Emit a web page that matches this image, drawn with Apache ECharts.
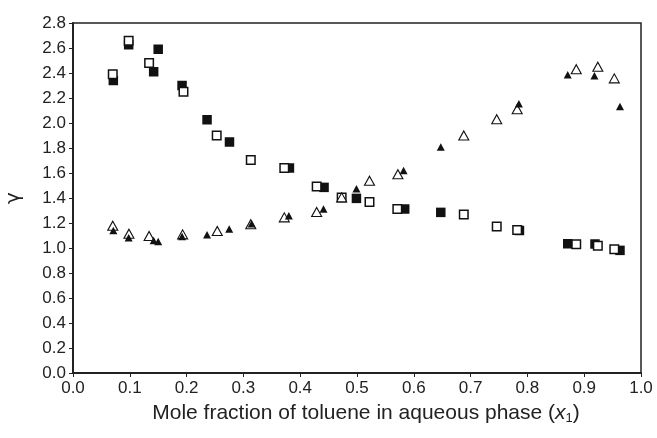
<!DOCTYPE html>
<html>
<head>
<meta charset="utf-8">
<script src="https://cdn.jsdelivr.net/npm/echarts@6/dist/echarts.min.js"></script>
<style>
  html, body { margin: 0; padding: 0; background: #fff; }
  #chart { width: 657px; height: 438px; }
</style>
</head>
<body>
<div id="chart"></div>
<script>
// 实验点（空心/实心方块、三角），[x1, gamma]
const squareFilled = [
  [0.071, 2.34], [0.098, 2.626], [0.142, 2.41], [0.150, 2.59], [0.192, 2.30],
  [0.236, 2.026], [0.2755, 1.848], [0.381, 1.64], [0.442, 1.485], [0.499, 1.397],
  [0.584, 1.312], [0.6475, 1.285], [0.786, 1.14], [0.871, 1.034], [0.919, 1.032],
  [0.963, 0.981]
]
const squareOpen = [
  [0.070, 2.39], [0.098, 2.658], [0.134, 2.48], [0.1945, 2.25], [0.253, 1.90],
  [0.313, 1.705], [0.372, 1.64], [0.429, 1.493], [0.473, 1.405], [0.522, 1.368],
  [0.571, 1.312], [0.688, 1.268], [0.746, 1.173], [0.782, 1.144], [0.886, 1.03],
  [0.924, 1.019], [0.953, 0.99]
]
const triangleOpen = [
  [0.070, 1.178], [0.0985, 1.114], [0.134, 1.096], [0.193, 1.109], [0.254, 1.136],
  [0.313, 1.19], [0.372, 1.245], [0.429, 1.288], [0.473, 1.405], [0.522, 1.538],
  [0.572, 1.59], [0.688, 1.90], [0.746, 2.03], [0.782, 2.11], [0.886, 2.43],
  [0.924, 2.45], [0.953, 2.357]
]
const triangleFilled = [
  [0.071, 1.14], [0.098, 1.082], [0.142, 1.06], [0.150, 1.053], [0.192, 1.093],
  [0.236, 1.106], [0.275, 1.152], [0.3145, 1.194], [0.380, 1.258], [0.441, 1.312],
  [0.499, 1.474], [0.582, 1.62], [0.6475, 1.808], [0.785, 2.155], [0.871, 2.386],
  [0.918, 2.378], [0.963, 2.133]
]

const font = 'Liberation Sans, Arial, sans-serif'
const ink = '#222'

const chart = echarts.init(document.getElementById('chart'))

const axisCommon = {
  axisLine: { show: true, lineStyle: { color: ink, width: 2 } },
  axisTick: { show: true, length: 4, lineStyle: { color: ink, width: 1 } },
  splitLine: { show: false },
  axisLabel: {
    color: ink, fontSize: 17, fontFamily: font, margin: 7,
    formatter: v => v.toFixed(1)
  }
}

const option = {
  backgroundColor: '#fff',
  animation: false,
  grid: {
    left: 73, right: 16, top: 23, bottom: 65,
    containLabel: false, outerBoundsMode: 'none',
    show: true, borderColor: ink, borderWidth: 1.5
  },
  xAxis: Object.assign({}, axisCommon, {
    type: 'value', min: 0, max: 1, interval: 0.1,
    name: '{n|Mole fraction of toluene in aqueous phase (}{i|x}{s|1}{n|)}',
    nameLocation: 'middle', nameGap: 29,
    nameTextStyle: {
      padding: [0, 0, 0, 18],
      rich: {
        n: { fontSize: 21, color: ink, fontFamily: font },
        i: { fontSize: 21, color: ink, fontFamily: font, fontStyle: 'italic' },
        s: { fontSize: 13, color: ink, fontFamily: font, padding: [10, 0, 0, 0] }
      }
    }
  }),
  yAxis: Object.assign({}, axisCommon, {
    type: 'value', min: 0, max: 2.8, interval: 0.2,
    name: 'γ', nameLocation: 'middle', nameGap: 49,
    nameTextStyle: { fontSize: 20, color: ink, fontFamily: 'DejaVu Sans, sans-serif' }
  }),
  series: [
    {
      type: 'scatter', data: squareFilled, symbol: 'rect', symbolSize: 9.5,
      itemStyle: { color: '#111', opacity: 1 }
    },
    {
      type: 'scatter', data: squareOpen, symbol: 'rect', symbolSize: 8.5,
      itemStyle: { color: '#fff', borderColor: '#111', borderWidth: 1.5, opacity: 1 }
    },
    {
      type: 'scatter', data: triangleOpen, symbol: 'triangle', symbolSize: [10, 9],
      itemStyle: { color: '#fff', borderColor: '#111', borderWidth: 1.1, opacity: 1 }
    },
    {
      type: 'scatter', data: triangleFilled, symbol: 'triangle', symbolSize: [8, 7.5],
      itemStyle: { color: '#111', opacity: 1 }
    }
  ]
}

chart.setOption(option)
</script>
</body>
</html>
